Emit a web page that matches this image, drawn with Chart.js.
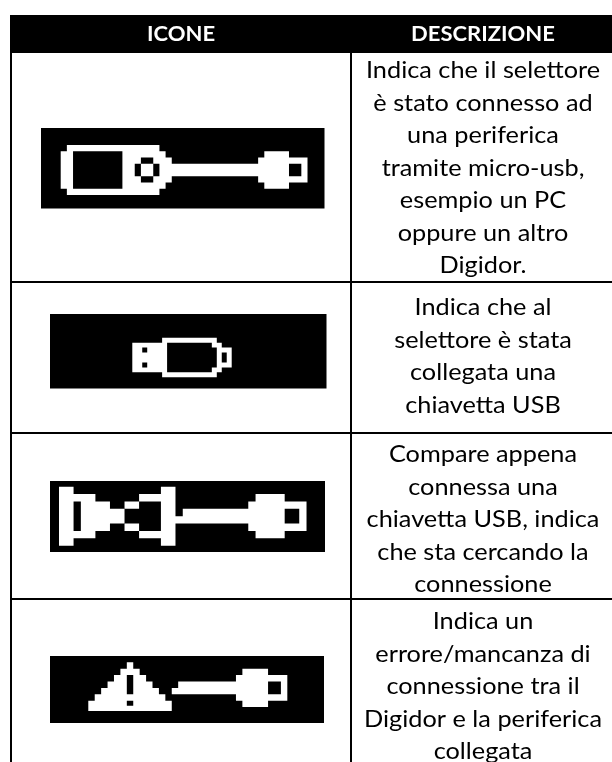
<!DOCTYPE html>
<html>
<head>
<meta charset="utf-8">
<script src="https://cdn.jsdelivr.net/npm/chart.js@4"></script>
<style>
    html, body { margin: 0; padding: 0; background: #fff; }
    canvas { display: block; }
</style>
</head>
<body>
<canvas id="table" width="612" height="762"></canvas>
<script>
// Table content
const headers = ['ICONE', 'DESCRIZIONE'];
const descriptions = [
    ['Indica che il selettore', 'è stato connesso ad', 'una periferica', 'tramite micro-usb,', 'esempio un PC', 'oppure un altro', 'Digidor.'],
    ['Indica che al', 'selettore è stata', 'collegata una', 'chiavetta USB'],
    ['Compare appena', 'connessa una', 'chiavetta USB, indica', 'che sta cercando la', 'connessione'],
    ['Indica un', 'errore/mancanza di', 'connessione tra il', 'Digidor e la periferica', 'collegata']
];

// Icon shapes, in display cells. White shapes first, then the black holes cut in them
const iconPc = {
    white: [[[1,0],[16,0],[16,1],[17,1],[17,2],[18,2],[18,3],[32,3],[32,2],[33,2],[33,1],[37,1],[37,2],[40,2],[40,6],[37,6],[37,7],[33,7],[33,6],[32,6],[32,5],[18,5],[18,6],[17,6],[17,7],[16,7],[16,8],[1,8],[1,7],[0,7],[0,1],[1,1]]],
    black: [
        [[2,1],[10,1],[10,7],[2,7]],
        [[37,3],[39,3],[39,5],[37,5]],
        [[13,2],[15,2],[15,3],[16,3],[16,5],[15,5],[15,6],[13,6],[13,5],[12,5],[12,3],[13,3]]
    ],
    inner: [[[13,3],[15,3],[15,5],[13,5]]]
};
const iconUsb = {
    white: [[[6,0],[17,0],[17,1],[18,1],[18,2],[20,2],[20,6],[18,6],[18,7],[17,7],[17,8],[6,8],[6,7],[0,7],[0,1],[6,1]]],
    black: [
        [[7,1],[16,1],[16,2],[17,2],[17,6],[16,6],[16,7],[7,7]],
        [[18,3],[19,3],[19,5],[18,5]],
        [[2,2],[3,2],[3,3],[2,3]],
        [[2,5],[3,5],[3,6],[2,6]]
    ],
    inner: []
};
const iconSearch = {
    white: [
        [[0,0],[2,0],[2,1],[5,1],[5,2],[7,2],[7,3],[9,3],[9,5],[7,5],[7,6],[5,6],[5,7],[2,7],[2,8],[0,8]],
        [[9,2],[11,2],[11,3],[9,3]],
        [[9,5],[11,5],[11,6],[9,6]],
        [[11,1],[14,1],[14,0],[16,0],[16,4],[17,4],[17,3],[26,3],[26,2],[27,2],[27,1],[31,1],[31,2],[34,2],[34,6],[31,6],[31,7],[27,7],[27,6],[26,6],[26,5],[16,5],[16,8],[14,8],[14,7],[11,7],[11,6],[14,6],[14,2],[11,2]]
    ],
    black: [
        [[2,2],[3,2],[3,6],[2,6]],
        [[31,3],[33,3],[33,5],[31,5]]
    ],
    inner: []
};
const iconError = {
    white: [
        [[0,7.6],[0,6],[1,6],[1,5],[2,5],[2,4],[3,4],[3,3],[4,3],[4,2],[5,2],[5,1],[6,1],[6,0],[7,0],[7,1],[8,1],[8,2],[9,2],[9,3],[10,3],[10,4],[11,4],[11,5],[12,5],[12,6],[13,6],[13,7.6]],
        [[13,5],[13,4],[14,4],[14,3],[23,3],[23,2],[24,2],[24,1],[28,1],[28,2],[31,2],[31,6],[28,6],[28,7],[24,7],[24,6],[23,6],[23,5]]
    ],
    black: [
        [[6,2],[7,2],[7,5],[6,5]],
        [[6,6],[7,6],[7,6.8],[6,6.8]],
        [[28,3],[30,3],[30,5],[28,5]]
    ],
    inner: []
};
const icons = [iconPc, iconUsb, iconSearch, iconError];

// Layout of the page, in picture pixels
const W = 612, H = 762;
const tableLeft = 11, colDivider = 351, headerTop = 15, headerBottom = 53;
const rowLines = [282, 433, 599];
const descCenter = 483, lineHeight = 32.5;
const panels = [
    { x0: 41, x1: 324.5, y0: 128, y1: 208.5, ox: 60.7, oy: 145, px: 6.17, py: 6.25 },
    { x0: 50, x1: 326.5, y0: 314, y1: 388.5, ox: 132.3, oy: 337.7, px: 4.97, py: 4.95 },
    { x0: 50, x1: 325, y0: 481, y1: 552, ox: 59, oy: 486.7, px: 7.28, py: 7.37 },
    { x0: 50, x1: 324, y0: 656, y1: 723, ox: 88.3, oy: 662.3, px: 6.42, py: 6.4 }
];
const rowText = [
    { first: 71 }, { first: 308 }, { first: 455 }, { first: 622 }
];
// Lato stands in for the original Calibri, the picture has it stretched a bit wider
const textStretch = 1.1;

const datasets = [];

function addShape(points, color) {
    datasets.push({
        data: points.map(p => ({ x: p[0], y: p[1] })),
        showLine: true,
        fill: 'shape',
        backgroundColor: color,
        borderColor: color,
        borderWidth: 0,
        pointRadius: 0,
        tension: 0
    });
}

function addRule(x0, y0, x1, y1) {
    datasets.push({
        data: [{ x: x0, y: y0 }, { x: x1, y: y1 }],
        showLine: true,
        fill: false,
        borderColor: '#000',
        borderWidth: 2,
        pointRadius: 0
    });
}

addShape([[tableLeft - 1, headerTop], [W, headerTop], [W, headerBottom], [tableLeft - 1, headerBottom]], '#000');
addRule(tableLeft, headerBottom, tableLeft, H);
addRule(colDivider, headerBottom, colDivider, H);
rowLines.forEach(y => addRule(tableLeft, y, W, y));

icons.forEach((icon, i) => {
    const p = panels[i];
    const cell = pts => pts.map(c => [p.ox + c[0] * p.px, p.oy + c[1] * p.py]);
    addShape([[p.x0, p.y0], [p.x1, p.y0], [p.x1, p.y1], [p.x0, p.y1]], '#000');
    icon.white.forEach(s => addShape(cell(s), '#fff'));
    icon.black.forEach(s => addShape(cell(s), '#000'));
    icon.inner.forEach(s => addShape(cell(s), '#fff'));
});

// first in the list is painted first
datasets.forEach((d, i) => { d.order = datasets.length - i; });

function stretchedText(ctx, text, px, py) {
    ctx.save();
    ctx.translate(px, py);
    ctx.scale(textStretch, 1);
    ctx.fillText(text, 0, 0);
    ctx.restore();
}

const tableText = {
    id: 'tableText',
    afterDatasetsDraw(chart) {
        const { ctx, scales: { x, y } } = chart;
        ctx.save();
        ctx.textAlign = 'center';
        ctx.textBaseline = 'middle';
        ctx.fillStyle = '#fff';
        ctx.font = 'bold 20px Lato';
        stretchedText(ctx, headers[0], x.getPixelForValue((tableLeft + colDivider) / 2), y.getPixelForValue(35));
        stretchedText(ctx, headers[1], x.getPixelForValue(descCenter), y.getPixelForValue(35));
        ctx.fillStyle = '#000';
        ctx.font = '23px Lato';
        descriptions.forEach((lines, r) => {
            lines.forEach((line, l) => {
                stretchedText(ctx, line, x.getPixelForValue(descCenter), y.getPixelForValue(rowText[r].first + l * lineHeight));
            });
        });
        ctx.restore();
    }
};

new Chart(document.getElementById('table'), {
    type: 'scatter',
    data: { datasets: datasets },
    options: {
        responsive: false,
        animation: false,
        layout: { padding: 0 },
        plugins: { legend: { display: false }, tooltip: { enabled: false } },
        scales: {
            x: { type: 'linear', display: false, min: 0, max: W },
            y: { type: 'linear', display: false, min: 0, max: H, reverse: true }
        }
    },
    plugins: [tableText]
});
</script>
</body>
</html>
